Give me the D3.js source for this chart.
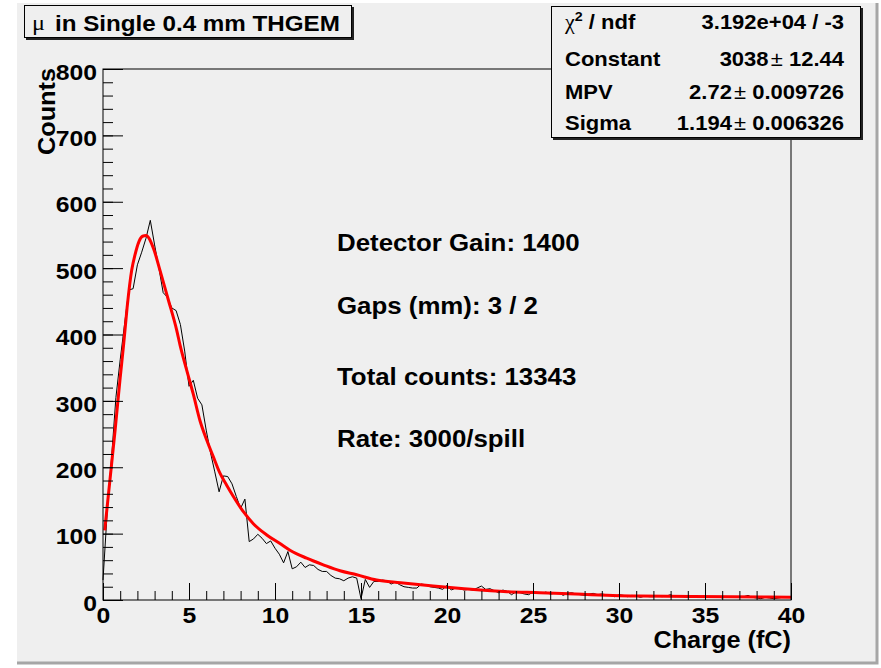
<!DOCTYPE html>
<html lang="en">
<head>
  <meta charset="UTF-8">
  <title>mu in Single 0.4 mm THGEM</title>
  <style>
    html, body { margin: 0; padding: 0; background: #fff; }
    svg { display: block; }
    text { font-family: 'Liberation Sans', Arial, Helvetica, sans-serif; font-weight: bold; fill: #000; }
  </style>
</head>
<body>
  <div id="chart"></div>
  <script src="https://d3js.org/d3.v7.min.js"></script>
  <script>
    // histogram: bin width in fC, counts per bin
    const BIN_WIDTH = 0.25;
    const counts = [
      30, 135, 215, 305, 362, 415, 467, 469, 505, 524,
      545, 572, 535, 500, 463, 456, 440, 436, 415, 375,
      322, 331, 304, 294, 256, 222, 193, 163, 187, 186,
      175, 156, 138, 152, 88, 92, 99, 93, 85, 89,
      78, 69, 56, 73, 47, 50, 57, 49, 53, 52,
      46, 43, 43, 37, 33, 32, 29, 33, 35, 33,
      2, 31, 19, 28, 28, 30, 29, 24, 27, 23,
      20, 19, 18, 18, 24, 23, 20, 19, 18, 16,
      22, 15, 18, 17, 15, 16, 15, 18, 21, 16,
      17, 14, 11, 15, 13, 8, 12, 11, 9, 8,
      12, 11, 10, 12, 9, 10, 11, 7, 10, 11,
      9, 8, 7, 9, 10, 8, 9, 8, 7, 5,
      8, 7, 5, 7, 6, 4, 6, 5, 5, 6,
      5, 6, 8, 5, 6, 5, 4, 6, 4, 5,
      6, 5, 4, 5, 3, 5, 4, 5, 4, 5,
      7, 4, 3, 2, 4, 3, 2, 3, 4, 4
    ];

    // landau fit curve
    const fitCharge = [0.1, 0.4, 0.7, 1.0, 1.2, 1.4, 1.67, 1.86, 2.09, 2.3, 2.5, 2.93, 3.31, 3.8, 4.28, 4.48, 4.87, 5.25, 5.64, 6.03,
      6.41, 6.8, 7.19, 7.58, 8.16, 8.74, 9.52, 10.29, 10.87, 11.84, 12.81, 13.78, 14.75, 15.91, 17.3, 19.2, 21, 23.5, 25.4, 27.9,
      31.2, 36.6, 40];
    const fitCounts = [105, 180, 255, 335, 385, 440, 497, 520, 540, 548, 549, 530, 497, 452, 407, 384, 346, 310, 270, 241,
      216, 191, 173, 156, 133, 115, 98, 85, 75, 63, 53, 44, 38, 30, 26, 21, 17, 12.5, 11, 8.5,
      6, 5, 4];

    const xTicks = [0, 5, 10, 15, 20, 25, 30, 35, 40];
    const yTicks = [0, 100, 200, 300, 400, 500, 600, 700, 800];

    const statsNames = ['Constant', 'MPV', 'Sigma'];
    const statsValues = ['3038', '2.72', '1.194'];
    const statsErrors = ['12.44', '0.009726', '0.006326'];
    const chi2Text = '3.192e+04 / -3';
    const infoLines = ['Detector Gain: 1400', 'Gaps (mm): 3 / 2', 'Total counts: 13343', 'Rate: 3000/spill'];
    const infoY = [243, 306, 377, 439];

    const W = 881, H = 668;
    const frame = {left: 103, right: 791, top: 69, bottom: 600};
    const STRETCH = 1.1; // the original fonts are rendered a little wide
    const FONT = 22.5;

    const svg = d3.select('#chart').append('svg')
      .attr('width', W).attr('height', H);

    // canvas with bevel
    svg.append('rect').attr('x', 17).attr('y', 3).attr('width', 860).attr('height', 660).attr('fill', '#efefef');
    svg.append('path').attr('d', 'M17,663H877V3').attr('fill', 'none').attr('stroke', '#a6a6a6').attr('stroke-width', 3);

    const x = d3.scaleLinear().domain([0, 40]).range([frame.left, frame.right]);
    const y = d3.scaleLinear().domain([0, 800]).range([frame.bottom, frame.top]);

    function label(parent, px, py, str, opts = {}) {
      const t = parent.append('text')
        .attr('transform', `translate(${px},${py})${opts.rotate ? ' rotate(-90)' : ''} scale(${STRETCH},1)`)
        .attr('text-anchor', opts.anchor || 'start')
        .attr('font-size', (opts.size || FONT) + 'px');
      if (str) t.text(str);
      return t;
    }

    // histogram line
    const histLine = d3.line()
      .x((d, i) => x(i * BIN_WIDTH))
      .y(d => y(d));
    svg.append('path')
      .datum(counts)
      .attr('d', histLine)
      .attr('fill', 'none')
      .attr('stroke', '#000')
      .attr('stroke-width', 1);

    // fit curve
    const fitLine = d3.line()
      .x(d => x(d[0]))
      .y(d => y(d[1]))
      .curve(d3.curveMonotoneX);
    svg.append('path')
      .datum(fitCharge.map((c, i) => [c, fitCounts[i]]))
      .attr('d', fitLine)
      .attr('fill', 'none')
      .attr('stroke', '#ff0000')
      .attr('stroke-width', 3)
      .attr('stroke-linejoin', 'round');

    // axes: major + minor ticks pointing inwards
    const xMinor = svg.append('g').attr('transform', `translate(0,${frame.bottom})`)
      .call(d3.axisBottom(x).tickValues(d3.range(0, 41, 1)).tickSizeInner(-9).tickSizeOuter(0).tickFormat(''));
    const xMajor = svg.append('g').attr('transform', `translate(0,${frame.bottom})`)
      .call(d3.axisBottom(x).tickValues(xTicks).tickSizeInner(-17).tickSizeOuter(0).tickPadding(7));
    const yMinor = svg.append('g').attr('transform', `translate(${frame.left},0)`)
      .call(d3.axisLeft(y).tickValues(d3.range(0, 801, 20)).tickSizeInner(-10).tickSizeOuter(0).tickFormat(''));
    const yMajor = svg.append('g').attr('transform', `translate(${frame.left},0)`)
      .call(d3.axisLeft(y).tickValues(yTicks).tickSizeInner(-20).tickSizeOuter(0).tickPadding(5.5));

    [xMinor, xMajor, yMinor, yMajor].forEach(g => {
      g.select('.domain').remove();
      g.selectAll('line').attr('stroke', '#000');
      g.selectAll('text')
        .attr('font-size', FONT + 'px')
        .attr('font-family', null)
        .attr('fill', '#000')
        .attr('transform', `scale(${STRETCH},1)`);
    });
    yMajor.selectAll('text').attr('dy', '0.45em');

    // frame
    svg.append('rect')
      .attr('x', frame.left).attr('y', frame.top)
      .attr('width', frame.right - frame.left).attr('height', frame.bottom - frame.top)
      .attr('fill', 'none').attr('stroke', '#000').attr('stroke-width', 1);

    // axis titles
    label(svg, frame.right, 648, 'Charge (fC)', {anchor: 'end', size: 23});
    label(svg, 55, 68, 'Counts', {anchor: 'end', size: 23, rotate: true});

    // info text
    infoLines.forEach((s, i) => label(svg, 337, infoY[i] + 8, s, {size: 23.5}));

    // title box
    const titleBox = svg.append('g');
    titleBox.append('rect').attr('x', 26).attr('y', 7).attr('width', 328).attr('height', 33).attr('fill', '#222');
    titleBox.append('rect').attr('x', 24.5).attr('y', 5.5).attr('width', 327).attr('height', 32)
      .attr('fill', '#efefef').attr('stroke', '#000');
    label(titleBox, 32, 30, 'μ', {size: 22})
      .style('font-family', "'Liberation Serif', 'DejaVu Serif', serif").style('font-weight', 'normal');
    label(titleBox, 55, 31, 'in Single 0.4 mm THGEM', {size: 22});

    // stats box
    const stats = svg.append('g');
    stats.append('rect').attr('x', 553).attr('y', 8).attr('width', 310).attr('height', 132).attr('fill', '#222');
    stats.append('rect').attr('x', 551.5).attr('y', 6.5).attr('width', 309).attr('height', 131)
      .attr('fill', '#efefef').attr('stroke', '#000');

    const rowY = [29, 66, 99, 130];
    const chi = label(stats, 565, rowY[0], null, {size: 20});
    chi.append('tspan').text('χ')
      .style('font-family', "'Liberation Serif', 'DejaVu Serif', serif").style('font-weight', 'normal');
    chi.append('tspan').text('2').attr('font-size', '13px').attr('dy', -8);
    chi.append('tspan').text(' / ndf').attr('dy', 8);
    label(stats, 844, rowY[0], chi2Text, {size: 20, anchor: 'end'});

    statsNames.forEach((name, i) => {
      label(stats, 565, rowY[i + 1], name, {size: 20});
      const t = label(stats, 844, rowY[i + 1], null, {size: 20, anchor: 'end'});
      t.append('tspan').text(statsValues[i]);
      t.append('tspan').text('±').attr('dx', 2).style('font-weight', 'normal');
      t.append('tspan').text(' ' + statsErrors[i]);
    });
  </script>
</body>
</html>
